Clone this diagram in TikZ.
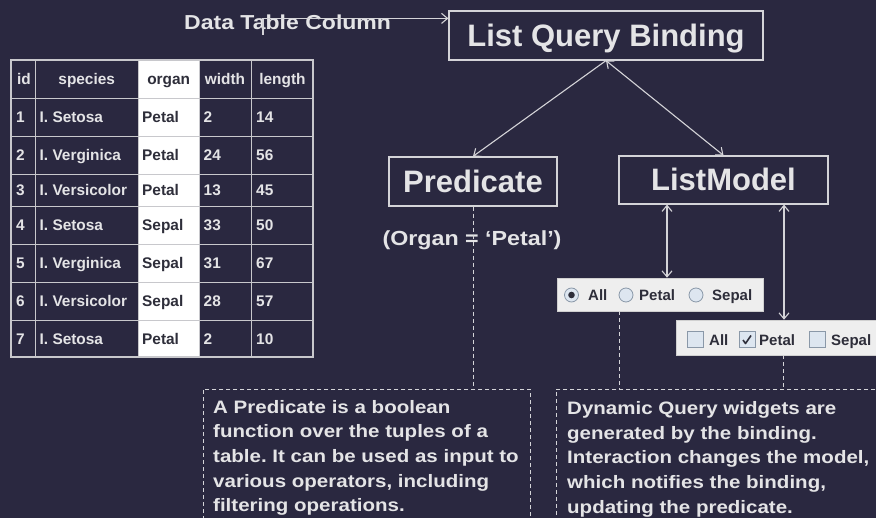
\documentclass[tikz,border=0pt]{standalone}
\usepackage{fontspec}
\setmainfont{Liberation Sans}
\newfontfamily\widefont[FakeStretch=1.14]{Liberation Sans}
\usetikzlibrary{arrows.meta,calc}
\frenchspacing

\definecolor{bgnavy}{HTML}{2A2840}
\definecolor{ink}{HTML}{E4E4E6}
\definecolor{rule}{HTML}{D4D4D8}
\definecolor{gridrule}{HTML}{C8C8CC}
\definecolor{panel}{HTML}{EEEEEE}
\definecolor{panelrule}{HTML}{D0D0D0}
\definecolor{widgetink}{HTML}{2E2E3A}
\definecolor{knob}{HTML}{8A98A8}
\definecolor{knobfill}{HTML}{DDE6F0}

\tikzset{
  titlebox/.style={draw=rule, line width=1.2pt, text=ink, inner sep=0pt,
    font=\bfseries\fontsize{31}{31}\selectfont, text height=22pt, text depth=0pt},
  link/.style={draw=rule, line width=1.1pt},
  arr/.style={-{Straight Barb[length=6pt,width=10pt]}},
  both/.style={{Straight Barb[length=6pt,width=10pt]}-{Straight Barb[length=6pt,width=10pt]}},
  guide/.style={draw=rule, line width=0.9pt, dash pattern=on 4pt off 3pt},
  notebox/.style={guide, inner sep=0pt, anchor=north west},
  notetext/.style={text=ink, inner sep=0pt, anchor=north west, align=left,
    font=\widefont\bfseries\fontsize{18}{24.6}\selectfont},
  cell/.style={inner sep=0pt, text height=11pt, text depth=0pt,
    font=\bfseries\fontsize{15.4}{15.4}\selectfont, text=ink},
  organcell/.style={cell, text=widgetink},
  widget/.style={fill=panel, draw=panelrule, line width=0.6pt, inner sep=0pt},
  wlabel/.style={inner sep=0pt, anchor=west, text=widgetink, text height=10.7pt,
    text depth=0pt, font=\bfseries\fontsize{15}{15}\selectfont},
  radiobtn/.style={circle, draw=knob, fill=knobfill, line width=0.8pt,
    minimum size=14pt, inner sep=0pt},
  checkbtn/.style={rectangle, draw=knob, fill=knobfill, line width=0.8pt,
    minimum size=16pt, inner sep=0pt},
}

\begin{document}
\begin{tikzpicture}[x=1pt,y=-1pt]
  % canvas
  \fill[bgnavy] (0,0) rectangle (876,518);
  \useasboundingbox (0,0) rectangle (876,518);

  % ---- iris table ----
  \fill[white] (138,60) rectangle (199,357);
  \foreach \yy in {98.3,136,174,206.7,244.3,282.3,320.7}
    \draw[gridrule, line width=0.9pt] (11,\yy) -- (313,\yy);
  \foreach \xx in {35,138,199,251}
    \draw[gridrule, line width=0.9pt] (\xx,60) -- (\xx,357);
  \draw[gridrule, line width=1.1pt] (11,60) rectangle (313,357);

  \node[cell] (hid) at (24,79.2) {id};
  \node[cell] (hsp) at (86.7,79.2) {species};
  \node[organcell] (hor) at (168.7,79.2) {organ};
  \node[cell] (hw) at (225,79.2) {width};
  \node[cell] (hl) at (282.5,79.2) {length};

  \foreach \i/\yc/\sp/\org/\w/\l in {
      1/117.2/I. Setosa/Petal/2/14,
      2/155/I. Verginica/Petal/24/56,
      3/190.4/I. Versicolor/Petal/13/45,
      4/225.5/I. Setosa/Sepal/33/50,
      5/263.3/I. Verginica/Sepal/31/67,
      6/301.5/I. Versicolor/Sepal/28/57,
      7/338.7/I. Setosa/Petal/2/10} {
    \node[cell, anchor=west] (id\i) at (16,\yc) {\i};
    \node[cell, anchor=west] (sp\i) at (39.5,\yc) {\sp};
    \node[organcell, anchor=west] (or\i) at (142,\yc) {\org};
    \node[cell, anchor=west] (w\i) at (203.5,\yc) {\w};
    \node[cell, anchor=west] (l\i) at (256,\yc) {\l};
  }

  % ---- binding structure ----
  \node[text=ink, inner sep=0pt, anchor=base west,
        font=\widefont\bfseries\fontsize{20.2}{20.2}\selectfont] (dtc) at (184,29.5) {Data Table Column};
  \node[titlebox, minimum width=314pt, minimum height=49pt] (lqb) at (606,35.5) {List Query Binding};
  \node[titlebox, minimum width=168pt, minimum height=49pt] (pred) at (473,181.5) {Predicate};
  \node[titlebox, minimum width=209pt, minimum height=48pt] (lm) at (723.5,180) {ListModel};
  \node[text=ink, inner sep=0pt, text height=14.5pt, text depth=0pt,
        font=\widefont\bfseries\fontsize{20.4}{20.4}\selectfont] (organ) at (472,238) {(Organ = ‘Petal’)};

  \coordinate (tick) at (263,35);
  \coordinate (lqbin) at ([yshift=-8pt]lqb.north west);
  \draw[link, arr] (tick) -- (tick |- lqbin) -- (lqbin);
  \draw[link, arr] (lqb.south) -- (pred.north);
  \draw[link, both] (lqb.south) -- (lm.north);

  % ---- query widgets ----
  \node[widget, minimum width=206pt, minimum height=33pt] (radio) at (660,294.5) {};
  \node[radiobtn] (rAll) at (571.5,295) {};
  \fill[widgetink] (rAll.center) circle (3.3pt);
  \node[wlabel] (tAll) at (588,295) {All};
  \node[radiobtn] (rPetal) at (626,295) {};
  \node[wlabel] (tPetal) at (639,295) {Petal};
  \node[radiobtn] (rSepal) at (696,295) {};
  \node[wlabel] (tSepal) at (712,295) {Sepal};

  \node[widget, minimum width=204pt, minimum height=35pt] (check) at (778,337.5) {};
  \node[checkbtn] (cAll) at (695,339.5) {};
  \node[wlabel] (uAll) at (709,340) {All};
  \node[checkbtn] (cPetal) at (747,339.5) {};
  \draw[widgetink, line width=1.6pt, line join=round]
    ([shift={(-4pt,-0.5pt)}]cPetal.center) -- ([shift={(-1.5pt,-4pt)}]cPetal.center)
    -- ([shift={(4pt,4pt)}]cPetal.center);
  \node[wlabel] (uPetal) at (759,340) {Petal};
  \node[checkbtn] (cSepal) at (817.5,339.5) {};
  \node[wlabel] (uSepal) at (831,340) {Sepal};

  \coordinate (lmA) at ([xshift=-56.5pt]lm.south);
  \coordinate (lmB) at ([xshift=60.5pt]lm.south);
  \draw[link, both] (lmA) -- (lmA |- radio.north);
  \draw[link, both] (lmB) -- (lmB |- check.north);

  % ---- explanatory notes ----
  \node[notebox, minimum width=327pt, minimum height=150pt] (lnote) at (203,389) {};
  \node[notebox, minimum width=340pt, minimum height=150pt] (rnote) at (556,389) {};
  \node[notetext] (ltext) at (213,400) {A Predicate is a boolean\\function over the tuples of a\\table. It can be used as input to\\various operators, including\\filtering operations.};
  \node[notetext] (rtext) at (567,401.5) {Dynamic Query widgets are\\generated by the binding.\\Interaction changes the model,\\which notifies the binding,\\updating the predicate.};

  \coordinate (rdrop) at ([xshift=63pt]radio.south west);
  \coordinate (cdrop) at ([xshift=108pt]check.south west);
  \draw[guide] (pred.south) -- (pred.south |- lnote.north);
  \draw[guide] (rdrop) -- (rdrop |- rnote.north);
  \draw[guide] (cdrop) -- (cdrop |- rnote.north);
\end{tikzpicture}
\end{document}
